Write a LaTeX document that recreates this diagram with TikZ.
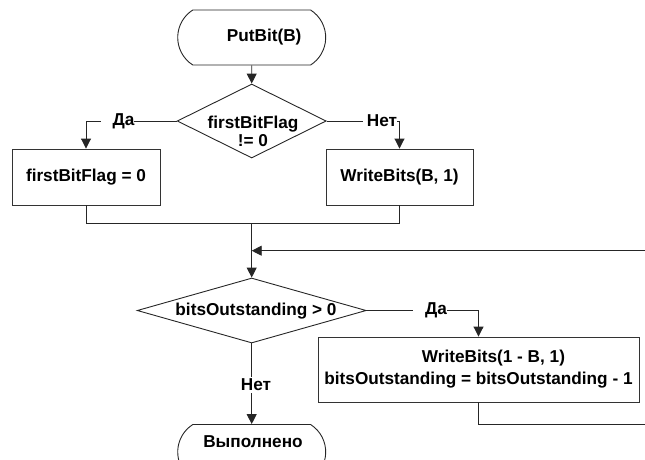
\documentclass[tikz,border=0pt]{standalone}
\usepackage{fontspec}
\setmainfont{Liberation Sans}
\usetikzlibrary{arrows.meta,shapes.geometric,shapes.misc,calc}
\tikzset{
  every node/.style={font=\bfseries\fontsize{17.2}{18.3}\selectfont, inner sep=0pt},
  conn/.style={draw=black!85, line width=0.9pt},
  arr/.style={conn, -{Triangle[length=10pt,width=10pt]}},
  procbox/.style={draw=black!80, line width=0.9pt, rectangle, align=center},
  termshape/.style={draw=black!85, line width=0.9pt, rounded rectangle, rounded rectangle arc length=115, minimum width=148pt, minimum height=55pt},
  decshape/.style={draw=black!85, line width=0.9pt, diamond},
  lbl/.style={fill=white, inner ysep=2pt}
}
\begin{document}
\begin{tikzpicture}[x=1pt,y=-1pt]
\useasboundingbox (0,0) rectangle (645,459);
\clip (0,0) rectangle (645,459);
% nodes
\node[termshape] (start) at (251.7,37.5) {\hspace*{25pt}PutBit(B)};
\node[decshape, minimum width=149pt, minimum height=74pt] (d1) at (251.7,121) {};
\node[align=center] (d1t) at (253,131) {firstBitFlag\\!= 0};
\node[procbox, minimum width=148pt, minimum height=56pt] (b1) at (86,177) {firstBitFlag = 0};
\node[procbox, minimum width=147pt, minimum height=56pt] (b2) at (399.5,177) {WriteBits(B, 1)};
\coordinate (m) at (251.7,223);
\coordinate (j) at (251.7,250.7);
\coordinate (rt) at (645,250.7);
\node[decshape, minimum width=229pt, minimum height=65pt] (d2) at (251.7,310.5) {};
\node (d2t) at (256,311) {bitsOutstanding > 0};
\node[procbox, minimum width=321pt, minimum height=65pt, font=\bfseries\fontsize{17.2}{22}\selectfont] (b3) at (478.5,369.5) {\hspace*{30pt}WriteBits(1 - B, 1)\\bitsOutstanding = bitsOutstanding - 1};
\coordinate (rb) at (645,424.5);
\node[termshape] (end) at (251.7,452) {};
\node (endt) at (253,441.7) {Выполнено};
% connectors
\draw[arr] (start) -- (d1);
\draw[arr] (d1.west) -| (b1.north);
\draw[arr] (d1.east) -| (b2.north);
\draw[conn] (b1.south) |- (m);
\draw[conn] (b2.south) |- (m);
\draw[arr] (m) -- (d2.north);
\draw[arr] (rt) -- (j);
\draw[arr] (d2.east) -| (b3.north);
\draw[conn] (b3.south) |- (rb);
\draw[arr] (d2.south) -- (end.north);
% labels
\node[lbl] (l1) at (117.5,121) {\hspace*{12pt}Да};
\node[lbl] (l2) at (380,121) {\hspace*{4pt}Нет};
\node[lbl] (l3) at (430,310.5) {\hspace*{12pt}Да};
\node[lbl] (l4) at (256,385) {Нет};
\end{tikzpicture}
\end{document}
